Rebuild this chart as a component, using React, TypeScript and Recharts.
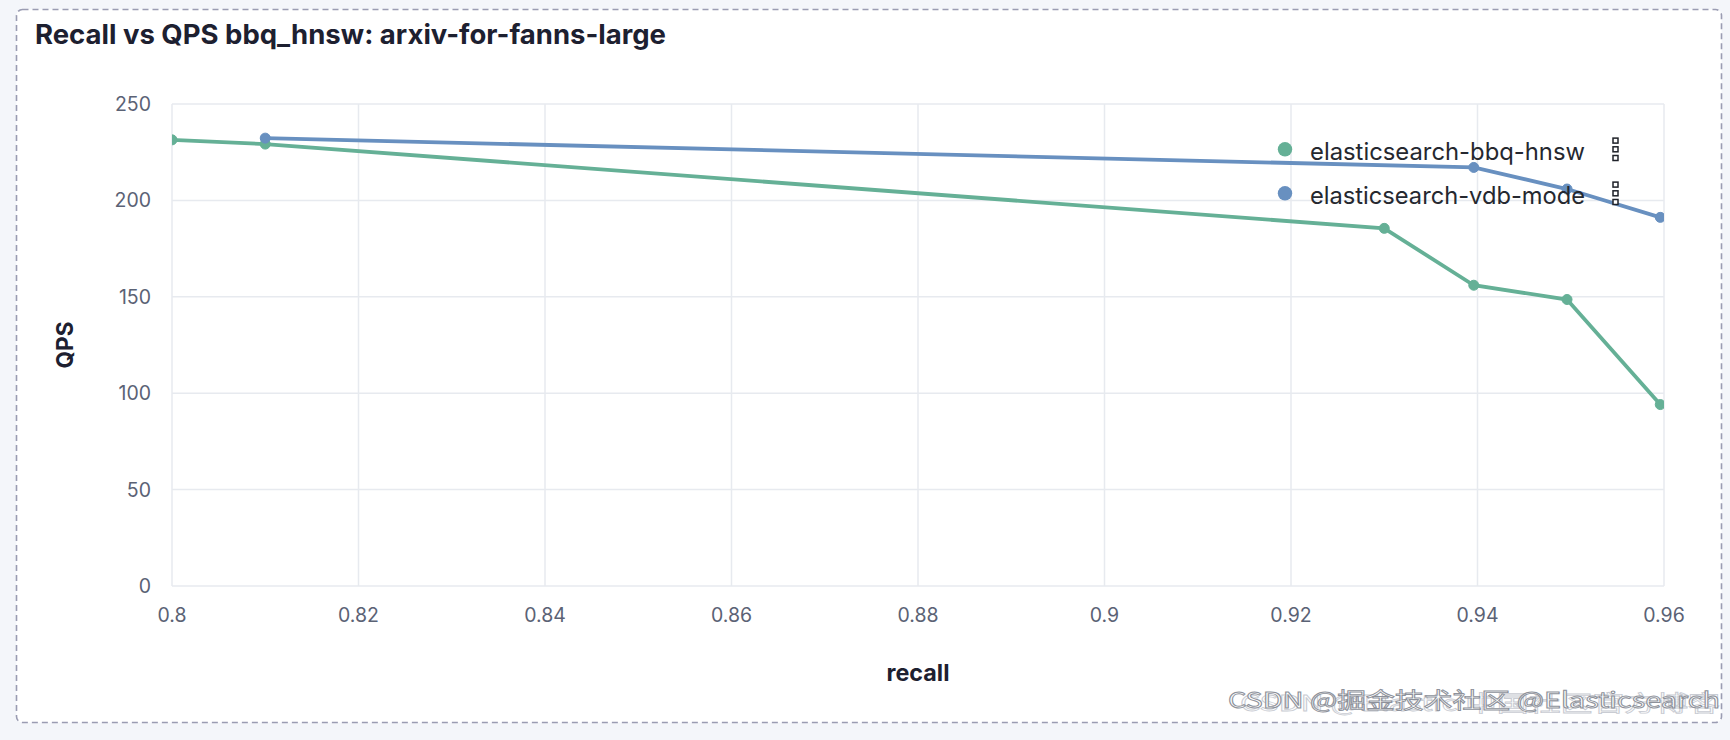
import React from 'react';
import { LineChart, Line, XAxis, YAxis, CartesianGrid, Legend, Label } from 'recharts';

// ---- data ----
const bbqRecall = [0.8, 0.81, 0.93, 0.9396, 0.9496, 0.9596];
const bbqQps = [231.4, 229.2, 185.5, 156.0, 148.6, 94.1];
const vdbRecall = [0.81, 0.9396, 0.9496, 0.9596];
const vdbQps = [232.3, 217.1, 205.9, 191.2];

const xTicks = [0.8, 0.82, 0.84, 0.86, 0.88, 0.9, 0.92, 0.94, 0.96];
const yTicks = [0, 50, 100, 150, 200, 250];

const seriesNames = ['elasticsearch-bbq-hnsw', 'elasticsearch-vdb-mode'];
const seriesColors = ['#65b096', '#6890c0'];

const titleText = 'Recall vs QPS bbq_hnsw: arxiv-for-fanns-large';
const xLabel = 'recall';
const yLabel = 'QPS';
const watermarkFront = 'CSDN @掘金技术社区 @Elasticsearch';
const watermarkBack = 'CSDN @Elastic 中国社区官方博客';

const bbqData = bbqRecall.map((r, i) => ({ recall: r, qps: bbqQps[i] }));
const vdbData = vdbRecall.map((r, i) => ({ recall: r, qps: vdbQps[i] }));

const FONT = 'Inter, "Noto Sans", sans-serif';

const renderLegend = () => (
  <svg width={370} height={90} style={{ display: 'block', overflow: 'visible' }}>
    {seriesNames.map((name, i) => {
      const cy = 22.3 + i * 44;
      return (
        <g key={name}>
          <circle cx={15} cy={cy} r={7.2} fill={seriesColors[i]} />
          <text
            x={40}
            y={cy + 10.3}
            fontFamily={FONT}
            fontSize={24}
            fill="#25282f"
            textLength={275}
            lengthAdjust="spacingAndGlyphs"
          >
            {name}
          </text>
          {[-8.7, 0, 8.7].map((d) => (
            <rect
              key={d}
              x={343}
              y={cy + d - 2.5}
              width={5}
              height={5}
              fill="#ffffff"
              stroke="#1f2229"
              strokeWidth={1.5}
            />
          ))}
        </g>
      );
    })}
  </svg>
);

const XLabelContent = (props: any) => {
  const vb = props.viewBox || {};
  return (
    <text
      x={vb.x + vb.width / 2}
      y={vb.y + 95}
      textAnchor="middle"
      fontFamily={FONT}
      fontSize={23}
      fontWeight={700}
      fill="#1d2030"
      textLength={63}
      lengthAdjust="spacingAndGlyphs"
    >
      {xLabel}
    </text>
  );
};

const YLabelContent = (props: any) => {
  const vb = props.viewBox || {};
  const cx = vb.x + 12.5;
  const cy = vb.y + vb.height / 2;
  return (
    <text
      x={cx}
      y={cy + 8}
      transform={`rotate(-90, ${cx}, ${cy})`}
      textAnchor="middle"
      fontFamily={FONT}
      fontSize={23}
      fontWeight={700}
      fill="#1d2030"
      textLength={47}
      lengthAdjust="spacingAndGlyphs"
    >
      {yLabel}
    </text>
  );
};

export default function App() {
  return (
    <div
      style={{
        position: 'absolute',
        left: 0,
        top: 0,
        width: 1730,
        height: 740,
        background: '#f4f6fa',
        overflow: 'hidden',
        fontFamily: FONT,
      }}
    >
      <svg width={1730} height={740} style={{ position: 'absolute', left: 0, top: 0 }}>
        <rect
          x={16.5}
          y={9.5}
          width={1705}
          height={713}
          rx={6}
          ry={6}
          fill="#ffffff"
          stroke="#9a9cb2"
          strokeWidth={1.6}
          strokeDasharray="6 4"
        />
        <text
          x={35}
          y={43.5}
          fontFamily={FONT}
          fontSize={27}
          fontWeight={700}
          fill="#1d2030"
          textLength={631}
          lengthAdjust="spacingAndGlyphs"
        >
          {titleText}
        </text>
      </svg>
      <div style={{ position: 'absolute', left: 0, top: 0 }}>
        <LineChart
          width={1730}
          height={740}
          margin={{ top: 104, right: 66, bottom: 94, left: 52 }}
        >
          <CartesianGrid stroke="#e7eaef" strokeWidth={1.5} />
          <XAxis
            type="number"
            dataKey="recall"
            domain={[0.8, 0.96]}
            ticks={xTicks}
            allowDataOverflow
            height={60}
            tickLine={false}
            axisLine={false}
            tickSize={0}
            tickMargin={22}
            tick={{ fontSize: 19.5, fill: '#5b6275', fontFamily: FONT }}
            tickFormatter={(v: number) => String(v)}
          >
            <Label content={<XLabelContent />} />
          </XAxis>
          <YAxis
            type="number"
            domain={[0, 250]}
            ticks={yTicks}
            width={120}
            tickLine={false}
            axisLine={false}
            tickSize={0}
            tickMargin={21}
            tick={{ fontSize: 19.5, fill: '#5b6275', fontFamily: FONT }}
          >
            <Label content={<YLabelContent />} />
          </YAxis>
          <Legend
            layout="vertical"
            align="center"
            verticalAlign="middle"
            content={renderLegend}
            wrapperStyle={{ position: 'absolute', left: 1270, top: 127, width: 370, height: 90 }}
          />
          <Line
            data={bbqData}
            dataKey="qps"
            name={seriesNames[0]}
            type="linear"
            stroke={seriesColors[0]}
            strokeWidth={3.8}
            dot={{ r: 5, fill: seriesColors[0], stroke: seriesColors[0], strokeWidth: 1 }}
            activeDot={false}
            isAnimationActive={false}
          />
          <Line
            data={vdbData}
            dataKey="qps"
            name={seriesNames[1]}
            type="linear"
            stroke={seriesColors[1]}
            strokeWidth={3.8}
            dot={{ r: 5, fill: seriesColors[1], stroke: seriesColors[1], strokeWidth: 1 }}
            activeDot={false}
            isAnimationActive={false}
          />
        </LineChart>
      </div>
      <svg width={1730} height={740} style={{ position: 'absolute', left: 0, top: 0, pointerEvents: 'none' }}>
        <text
          x={1240}
          y={711}
          fontFamily='"Noto Sans CJK SC", "Noto Sans", sans-serif'
          fontSize={22}
          fill="none"
          stroke="#c9ccd3"
          strokeWidth={0.8}
          textLength={480}
          lengthAdjust="spacingAndGlyphs"
        >
          {watermarkBack}
        </text>
        <text
          x={1228}
          y={708}
          fontFamily='"Noto Sans CJK SC", "Noto Sans", sans-serif'
          fontSize={22}
          fill="#ffffff"
          stroke="#8d919a"
          strokeWidth={0.9}
          textLength={492}
          lengthAdjust="spacingAndGlyphs"
        >
          {watermarkFront}
        </text>
      </svg>
    </div>
  );
}
